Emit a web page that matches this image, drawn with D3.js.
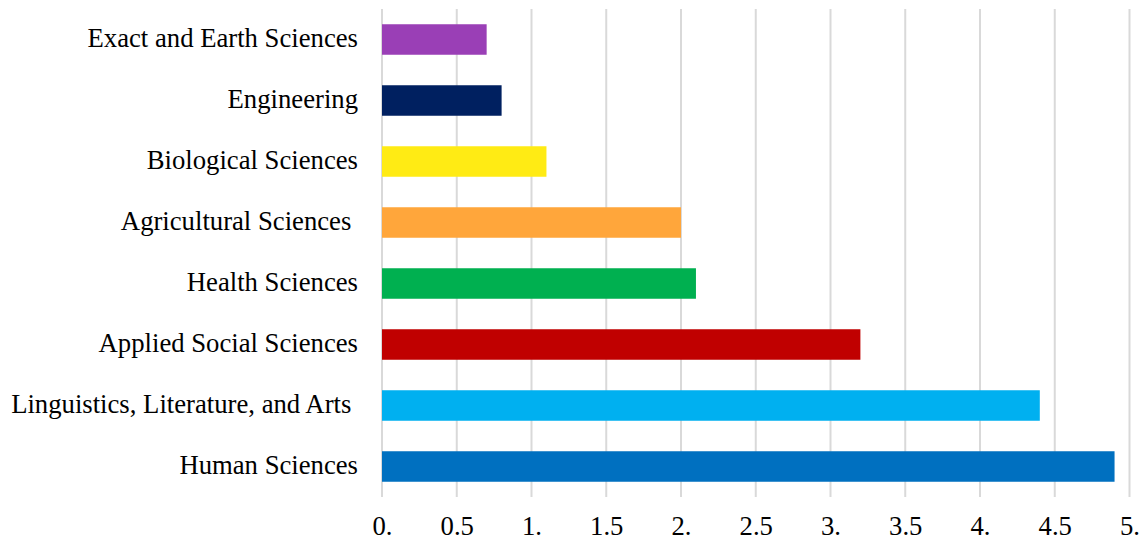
<!DOCTYPE html>
<html>
<head>
<meta charset="utf-8">
<script src="https://cdn.jsdelivr.net/npm/d3@7"></script>
<style>
  html, body { margin: 0; padding: 0; background: #fff; }
  svg { display: block; }
  text { font-family: "Liberation Serif", "Times New Roman", serif; fill: #000; white-space: pre; }
</style>
</head>
<body>
<svg id="chart" width="1144" height="540"></svg>
<script>
// Areas of knowledge, top to bottom
const categories = [
  "Exact and Earth Sciences",
  "Engineering",
  "Biological Sciences",
  "Agricultural Sciences ",
  "Health Sciences",
  "Applied Social Sciences",
  "Linguistics, Literature, and Arts ",
  "Human Sciences"
];
const values = [0.7, 0.8, 1.1, 2.0, 2.1, 3.2, 4.4, 4.9];
const colors = ["#9a3fb6", "#002060", "#ffeb14", "#ffa63b", "#00b050", "#c00000", "#00b0f0", "#0070c0"];
const tickValues = [0, 0.5, 1, 1.5, 2, 2.5, 3, 3.5, 4, 4.5, 5];
const tickLabels = ["0.", "0.5", "1.", "1.5", "2.", "2.5", "3.", "3.5", "4.", "4.5", "5."];

const svg = d3.select("#chart");
const plot = { left: 382, right: 1129.5, top: 9, bottom: 497 };
const fontFamily = '"Liberation Serif", "Times New Roman", serif';

const x = d3.scaleLinear().domain([0, 5]).range([plot.left, plot.right]);
const y = d3.scaleBand().domain(categories).range([plot.top, plot.bottom])
  .paddingInner(0.5).paddingOuter(0.25);

// Vertical gridlines
svg.append("g")
  .selectAll("line")
  .data(tickValues)
  .join("line")
  .attr("x1", d => x(d)).attr("x2", d => x(d))
  .attr("y1", plot.top).attr("y2", plot.bottom)
  .attr("stroke", "#d9d9d9")
  .attr("stroke-width", 2);

// Bars
svg.append("g")
  .selectAll("rect")
  .data(values)
  .join("rect")
  .attr("x", x(0))
  .attr("y", (d, i) => y(categories[i]))
  .attr("width", d => x(d) - x(0))
  .attr("height", y.bandwidth())
  .attr("fill", (d, i) => colors[i]);

// X axis labels
const xAxis = d3.axisBottom(x)
  .tickValues(tickValues)
  .tickFormat((d, i) => tickLabels[i])
  .tickSize(0)
  .tickPadding(0);
const gx = svg.append("g").attr("transform", `translate(0,${plot.bottom})`).call(xAxis);
gx.attr("font-family", null).attr("font-size", null);
gx.select(".domain").remove();
gx.selectAll("text")
  .attr("y", 38)
  .attr("dy", null)
  .style("font-family", fontFamily)
  .style("font-size", "26.7px")
  .attr("fill", "#000");

// Category labels
const yAxis = d3.axisLeft(y).tickSize(0).tickPadding(0);
const gy = svg.append("g").attr("transform", `translate(${plot.left - 24},0)`).call(yAxis);
gy.attr("font-family", null).attr("font-size", null);
gy.select(".domain").remove();
gy.selectAll("text")
  .attr("dy", "0.29em")
  .style("font-family", fontFamily)
  .style("font-size", "26.7px")
  .style("white-space", "pre")
  .attr("fill", "#000");
</script>
</body>
</html>
